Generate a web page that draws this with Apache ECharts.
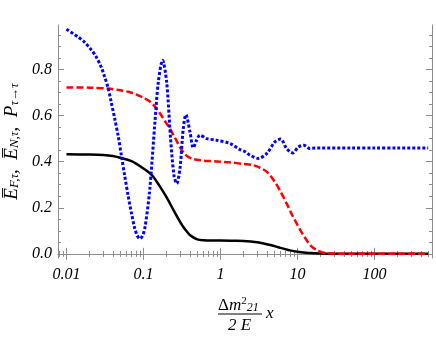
<!DOCTYPE html>
<html>
<head>
<meta charset="utf-8">
<script src="https://cdn.jsdelivr.net/npm/echarts@6/dist/echarts.min.js"></script>
<style>
html, body { margin: 0; padding: 0; background: #fff; }
#chart { width: 436px; height: 338px; }
</style>
</head>
<body>
<div id="chart"></div>
<script>
const blackX = [0.01, 0.02, 0.03, 0.04, 0.05, 0.07, 0.1, 0.13, 0.16, 0.2, 0.25, 0.3, 0.35, 0.4, 0.5, 0.6, 0.8, 1, 1.5, 2, 3, 4, 5, 6, 8, 10, 13, 16, 20, 30, 50, 100, 200, 500]
const blackY = [0.432, 0.431, 0.429, 0.425, 0.417, 0.402, 0.37, 0.34, 0.297, 0.245, 0.185, 0.138, 0.105, 0.082, 0.063, 0.059, 0.058, 0.058, 0.057, 0.056, 0.05, 0.042, 0.034, 0.026, 0.015, 0.009, 0.005, 0.003, 0.001, 0, 0, 0, 0, 0]

const redX = [0.01, 0.02, 0.035, 0.05, 0.065, 0.08, 0.1, 0.12, 0.14, 0.165, 0.2, 0.22, 0.26, 0.3, 0.34, 0.38, 0.45, 0.55, 0.7, 0.9, 1.3, 2, 2.7, 3.3, 4, 5, 6, 7.3, 8.5, 10, 11.5, 13, 15, 18, 21, 24, 30, 50, 100, 200, 500]
const redY = [0.722, 0.721, 0.717, 0.71, 0.702, 0.692, 0.677, 0.662, 0.64, 0.608, 0.565, 0.544, 0.5, 0.461, 0.435, 0.421, 0.411, 0.406, 0.403, 0.401, 0.397, 0.39, 0.384, 0.373, 0.356, 0.316, 0.272, 0.216, 0.17, 0.126, 0.09, 0.062, 0.035, 0.015, 0.006, 0.003, 0.001, 0, 0, 0, 0]

const blueX = [0.01, 0.0141, 0.017, 0.021, 0.024, 0.0283, 0.031, 0.0346, 0.038, 0.0423, 0.047, 0.0516, 0.057, 0.063, 0.07, 0.077, 0.083, 0.089, 0.096, 0.104, 0.12, 0.141, 0.156, 0.177, 0.2, 0.225, 0.249, 0.27, 0.298, 0.329, 0.356, 0.402, 0.444, 0.49, 0.542, 0.662, 0.893, 1.33, 1.8, 2.1, 2.42, 3.1, 3.98, 5.1, 6.05, 7.24, 8.67, 10.3, 12.1, 14.5, 17, 20, 50, 100, 200, 500]
const blueY = [0.975, 0.941, 0.92, 0.885, 0.858, 0.81, 0.772, 0.722, 0.66, 0.587, 0.51, 0.428, 0.34, 0.255, 0.175, 0.11, 0.08, 0.066, 0.075, 0.11, 0.27, 0.573, 0.746, 0.84, 0.746, 0.5, 0.341, 0.305, 0.37, 0.544, 0.604, 0.529, 0.46, 0.493, 0.515, 0.5, 0.493, 0.479, 0.452, 0.443, 0.428, 0.414, 0.435, 0.486, 0.498, 0.457, 0.438, 0.464, 0.471, 0.457, 0.459, 0.459, 0.459, 0.459, 0.459, 0.459]

const xMajorTicks = [0.01, 0.1, 1, 10, 100]
const xMinorTicks = [0.008, 0.009, 0.02, 0.03, 0.04, 0.05, 0.06, 0.07, 0.08, 0.09, 0.2, 0.3, 0.4, 0.5, 0.6, 0.7, 0.8, 0.9, 2, 3, 4, 5, 6, 7, 8, 9, 20, 30, 40, 50, 60, 70, 80, 90, 200, 300, 400, 500]
const yMajorTicks = [0, 0.2, 0.4, 0.6, 0.8]
const yMinorTicks = [0.05, 0.1, 0.15, 0.25, 0.3, 0.35, 0.45, 0.5, 0.55, 0.65, 0.7, 0.75, 0.85, 0.9, 0.95]

const frameColor = '#8c8c8c'
const serif = 'Liberation Serif'
const xMin = 0.00776
const xMax = 560
const yMin = -0.018
const yMax = 0.993

const pairs = (xs, ys) => xs.map((x, i) => [x, ys[i]])

const tickAxis = (kind, position, ticks, length, withLine, withLabels) => {
  const axis = {
    type: kind === 'x' ? 'log' : 'value',
    position,
    min: kind === 'x' ? xMin : yMin,
    max: kind === 'x' ? xMax : yMax,
    axisLine: { show: withLine, lineStyle: { color: frameColor, width: 1 } },
    axisTick: {
      show: true,
      inside: true,
      length,
      customValues: ticks,
      lineStyle: { color: frameColor, width: 1 },
    },
    axisLabel: { show: false },
    splitLine: { show: false },
    minorTick: { show: false },
  }
  if (kind === 'x') axis.logBase = 10
  if (withLabels) {
    axis.axisLabel = {
      show: true,
      customValues: ticks,
      margin: kind === 'x' ? 9 : 6,
      color: '#000',
      fontFamily: serif,
      fontStyle: 'italic',
      fontSize: 16,
      formatter: kind === 'x' ? (v) => String(+v.toPrecision(3)) : (v) => v.toFixed(1),
    }
  }
  return axis
}

const chart = echarts.init(document.getElementById('chart'))

chart.setOption({
  backgroundColor: '#ffffff',
  animation: false,
  grid: { left: 58, right: 4, top: 25, bottom: 80, containLabel: false, outerBoundsMode: 'none' },
  xAxis: [
    tickAxis('x', 'bottom', xMajorTicks, 6, true, true),
    tickAxis('x', 'bottom', xMinorTicks, 3, false, false),
    tickAxis('x', 'top', xMajorTicks, 6, true, false),
    tickAxis('x', 'top', xMinorTicks, 3, false, false),
  ],
  yAxis: [
    Object.assign(tickAxis('y', 'left', yMajorTicks, 6, true, true), {
      name: '{e|E\u0305}{s|F,τ}{e|,  E\u0305}{s|N,τ}{e|,  P}{s|τ→τ}',
      nameLocation: 'middle',
      nameRotate: 90,
      nameGap: 28,
      nameTextStyle: {
        rich: {
          e: { fontFamily: serif, fontStyle: 'italic', fontSize: 19, color: '#000', lineHeight: 22, verticalAlign: 'bottom' },
          s: { fontFamily: serif, fontStyle: 'italic', fontSize: 13, color: '#000', lineHeight: 14, verticalAlign: 'bottom' },
        },
      },
    }),
    tickAxis('y', 'left', yMinorTicks, 3, false, false),
    tickAxis('y', 'right', yMajorTicks, 6, true, false),
    tickAxis('y', 'right', yMinorTicks, 3, false, false),
  ],
  series: [
    {
      name: 'EF',
      type: 'line',
      data: pairs(blackX, blackY),
      smooth: 0.3,
      showSymbol: false,
      lineStyle: { color: '#000000', width: 2.5 },
    },
    {
      name: 'EN',
      type: 'line',
      data: pairs(redX, redY),
      smooth: 0.3,
      showSymbol: false,
      lineStyle: { color: '#ff0000', width: 2.5, type: [7, 3] },
    },
    {
      name: 'P',
      type: 'line',
      data: pairs(blueX, blueY),
      smooth: 0.3,
      showSymbol: false,
      lineStyle: { color: '#0000ff', width: 3, type: [3, 2] },
    },
  ],
  graphic: [
    {
      type: 'text',
      left: 218,
      top: 296,
      style: {
        text: '{d|Δ}{m|m}{sup|2}{sub|21}',
        rich: {
          d: { fontFamily: serif, fontSize: 17, fill: '#000', lineHeight: 18, verticalAlign: 'bottom' },
          m: { fontFamily: serif, fontStyle: 'italic', fontSize: 17, fill: '#000', lineHeight: 18, verticalAlign: 'bottom' },
          sup: { fontFamily: serif, fontSize: 11, fill: '#000', lineHeight: 18, verticalAlign: 'top' },
          sub: { fontFamily: serif, fontStyle: 'italic', fontSize: 12, fill: '#000', lineHeight: 16, verticalAlign: 'bottom' },
        },
      },
    },
    {
      type: 'line',
      shape: { x1: 218, y1: 314, x2: 262, y2: 314 },
      style: { stroke: '#000', lineWidth: 1 },
    },
    {
      type: 'text',
      left: 228,
      top: 317,
      style: { text: '2 E', fontFamily: serif, fontStyle: 'italic', fontSize: 17, fill: '#000' },
    },
    {
      type: 'text',
      left: 266,
      top: 305,
      style: { text: 'x', fontFamily: serif, fontStyle: 'italic', fontSize: 17, fill: '#000' },
    },
  ],
})
</script>
</body>
</html>
